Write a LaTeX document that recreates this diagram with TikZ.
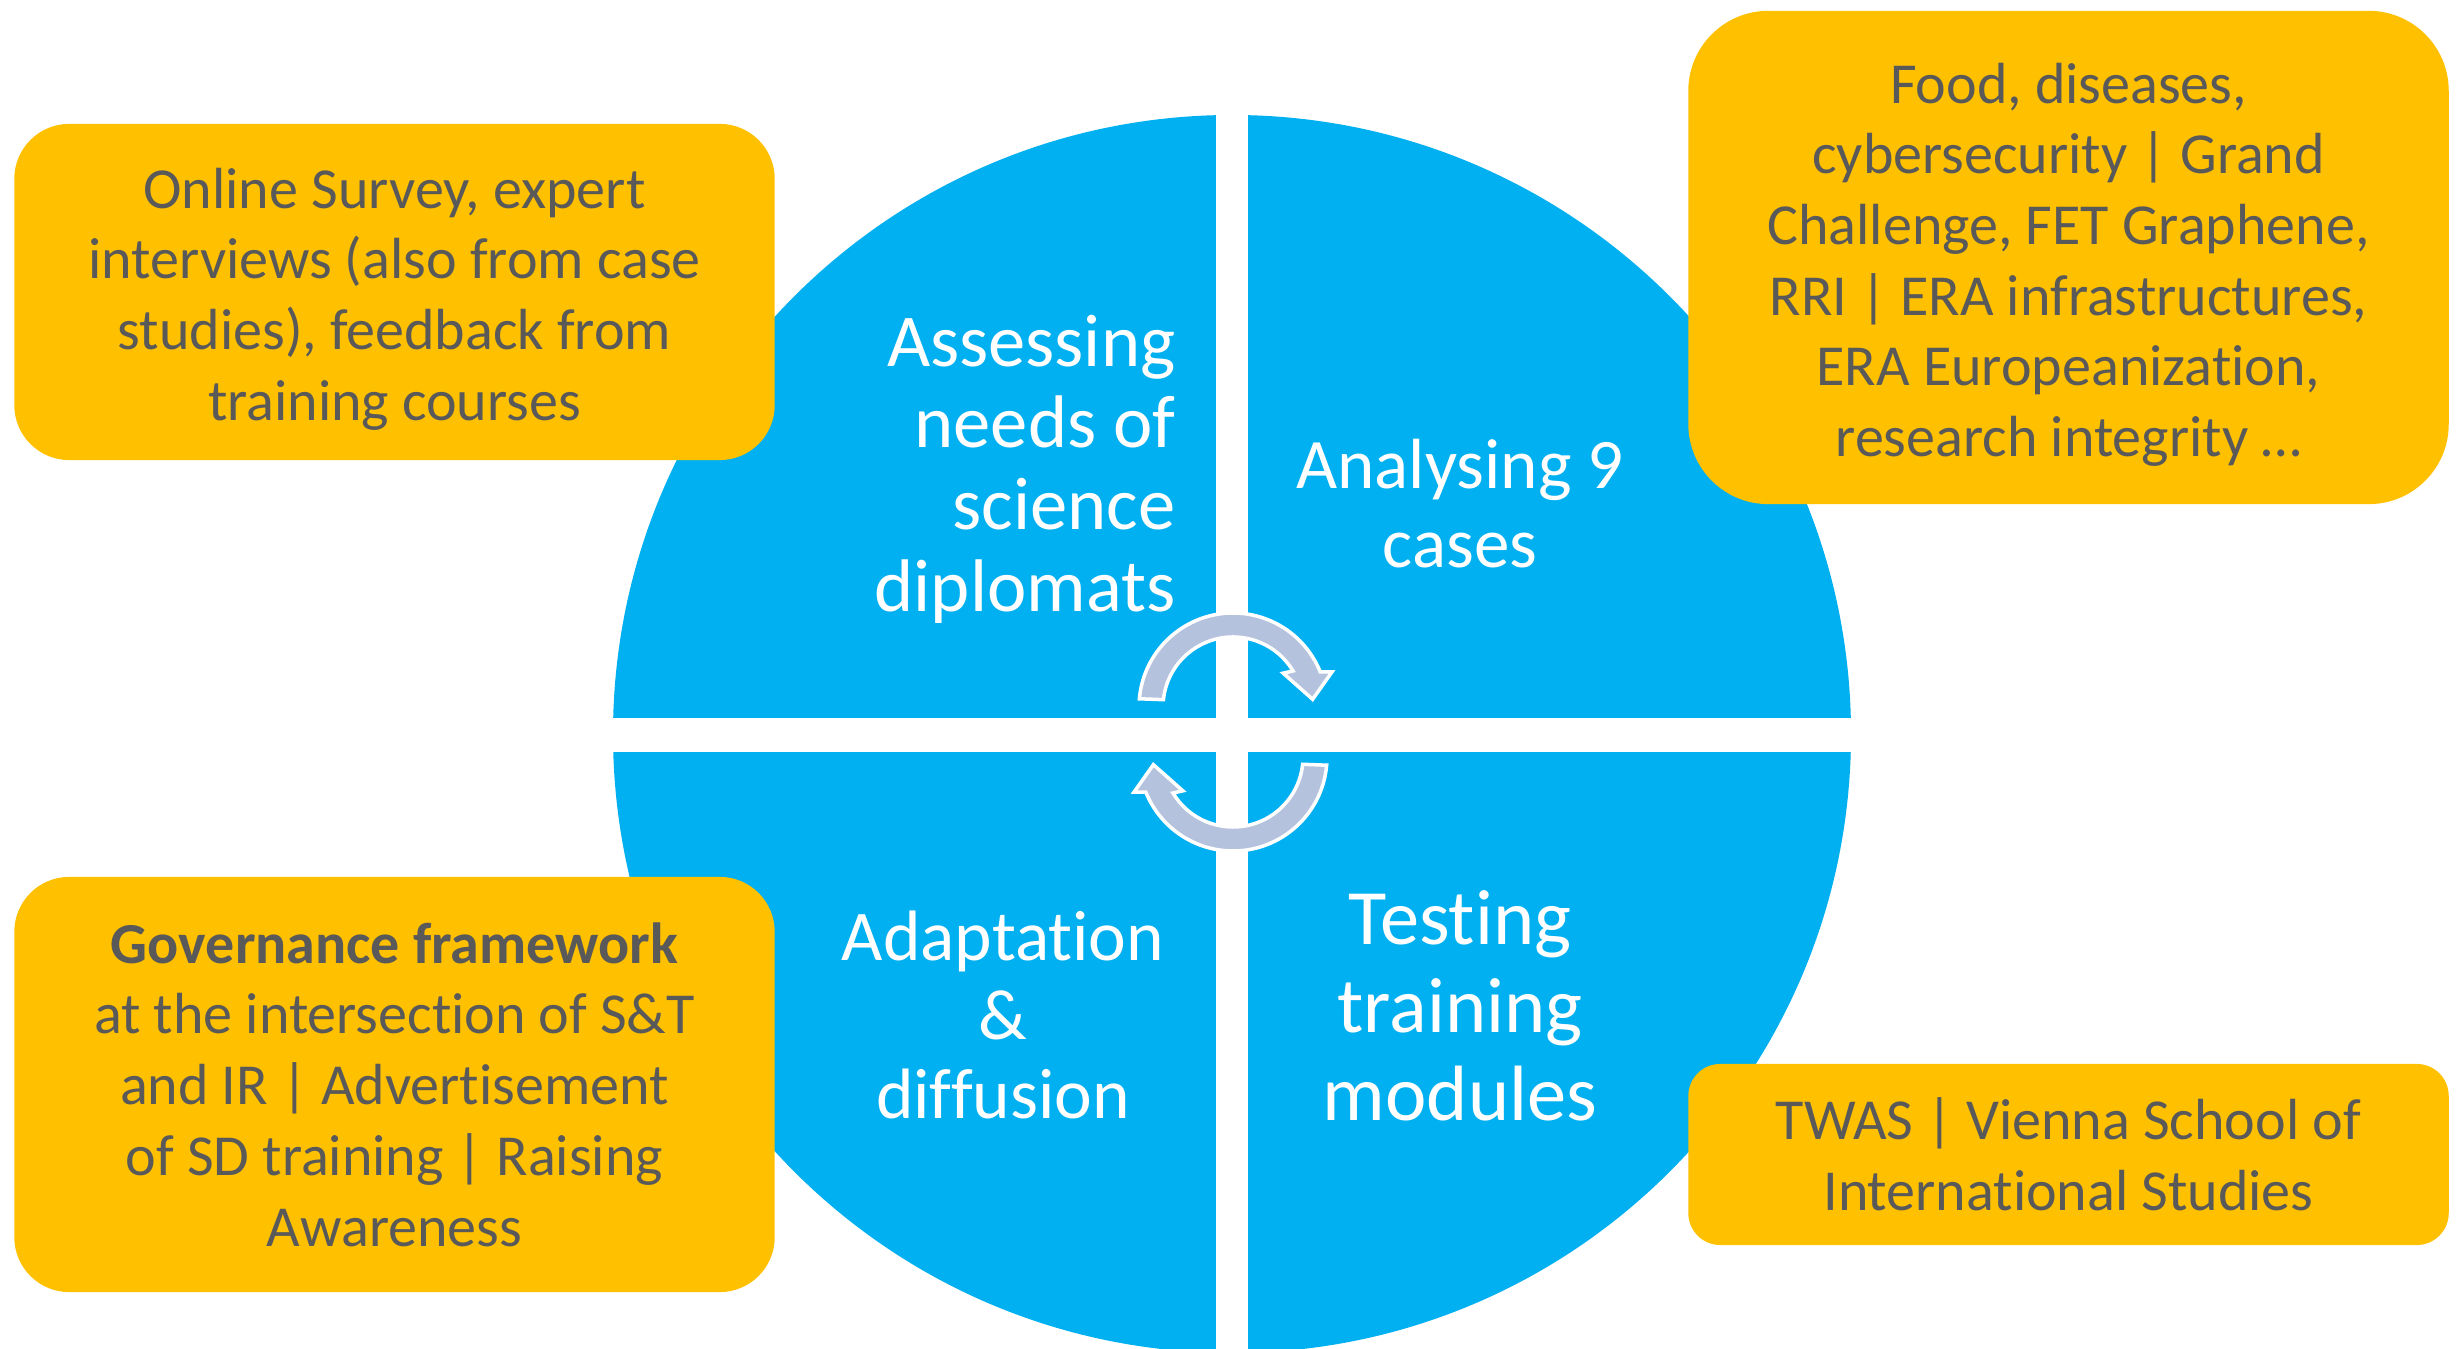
\documentclass[tikz,border=0pt]{standalone}
\usepackage{fontspec}
\setmainfont{Carlito}[Ligatures={NoCommon,NoRequired,NoContextual}, RawFeature={-liga,-clig,-rlig,-calt,-ccmp}]
\definecolor{sky}{HTML}{00B0F0}
\definecolor{amber}{HTML}{FFC000}
\definecolor{ink}{HTML}{595959}
\definecolor{cyclearrow}{RGB}{180,194,222}
\newcommand{\toppad}{\rule{0pt}{15.5pt}}

\begin{document}
\begin{tikzpicture}[x=0.01cm,y=0.01cm]
\tikzstyle{box}=[rectangle, text centered, align=center, fill=amber, text=ink, inner sep=0pt, minimum width=7.6cm, font=\fontsize{16.5}{20.1}\selectfont]
\tikzstyle{quarter}=[text=white, inner sep=0pt]
\tikzstyle{turn}=[fill=cyclearrow, draw=white, line width=1pt, line join=miter]
\clip (0,0) rectangle (2464,1349);
% wheel and its gaps
\fill[sky] (1232,615) circle (619);
\fill[white] (1216,0) rectangle (1248,1349);
\fill[white] (0,597) rectangle (2464,631);
% cycle arrows
\begin{scope}[shift={(1233,642)}]
\filldraw[turn] (175:94) arc[start angle=175, end angle=22, radius=94] -- (19.5:105) -- (5.5:80) -- (34:60.5) -- (31:70) arc[start angle=31, end angle=174, radius=70] -- cycle;
\end{scope}
\begin{scope}[shift={(1233,592)}]
\filldraw[turn] (355:94) arc[start angle=355, end angle=202, radius=94] -- (199.5:105) -- (185.5:80) -- (214:60.5) -- (211:70) arc[start angle=211, end angle=354, radius=70] -- cycle;
\end{scope}
% quarter labels
\node[quarter, anchor=east, align=right, font=\fontsize{21.2}{23.2}\selectfont] (needs) at (1176,880) {Assessing\\needs of\\science\\diplomats};
\node[quarter, align=center, font=\fontsize{20.2}{22.4}\selectfont] (cases) at (1460,845) {Analysing 9\\cases};
\node[quarter, align=center, font=\fontsize{20.3}{22.4}\selectfont] (adapt) at (1003,334) {Adaptation\\\&\\diffusion};
\node[quarter, align=center, font=\fontsize{22.3}{25}\selectfont] (testing) at (1460,343) {Testing\\training\\modules};
% side boxes
\node[box, minimum height=3.36cm, rounded corners=0.55cm] (survey) at (394.5,1057) {\toppad Online Survey, expert\\interviews (also from case\\studies), feedback from\\training courses};
\node[box, minimum height=4.93cm, rounded corners=0.8cm] (topics) at (2068.5,1091.5) {\toppad Food, diseases,\\cybersecurity | Grand\\Challenge, FET Graphene,\\RRI | ERA infrastructures,\\ERA Europeanization,\\research integrity …};
\node[box, minimum height=4.15cm, rounded corners=0.55cm] (gov) at (394.5,264.5) {\textbf{Governance framework}\\at the intersection of S\&T\\and IR | Advertisement\\of SD training | Raising\\Awareness};
\node[box, minimum height=1.81cm, rounded corners=0.32cm] (twas) at (2068.5,194.5) {TWAS | Vienna School of\\International Studies};
\end{tikzpicture}
\end{document}
